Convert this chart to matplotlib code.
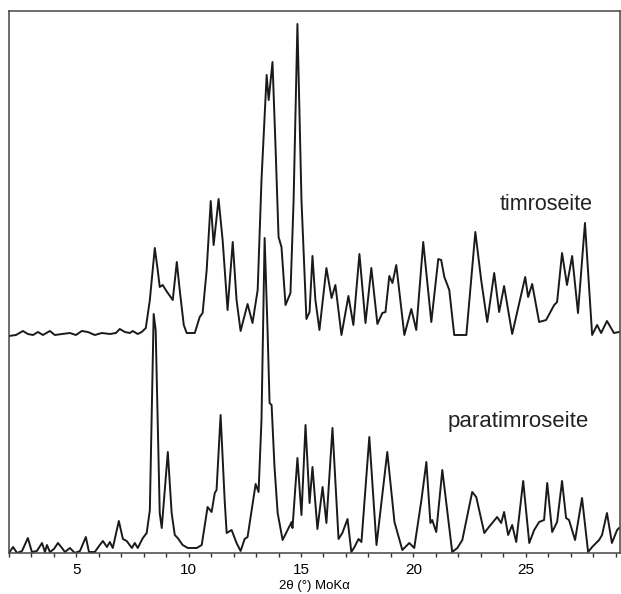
#!/usr/bin/python

import numpy as np
import matplotlib
matplotlib.use("Agg")
import matplotlib.pyplot as plt

plt.rcParams["font.family"] = ["Liberation Sans", "DejaVu Sans"]

# timroseite (upper pattern), intensity above its own baseline
tim_2theta = [
  2.00, 2.31, 2.62, 2.84, 3.07, 3.29, 3.51, 3.82, 4.04, 4.36, 4.71, 4.98,
  5.24, 5.51, 5.82, 6.13, 6.49, 6.76, 6.93, 7.16, 7.38, 7.51, 7.73, 7.91,
  8.09, 8.27, 8.49, 8.62, 8.71, 8.84, 8.98, 9.07, 9.29, 9.47, 9.60, 9.78,
  9.91, 10.27, 10.49, 10.62, 10.80, 10.98, 11.11, 11.33, 11.51, 11.73, 11.96, 12.13,
  12.31, 12.62, 12.84, 13.07, 13.24, 13.47, 13.56, 13.73, 13.87, 14.00, 14.13, 14.31,
  14.53, 14.67, 14.84, 15.02, 15.24, 15.38, 15.51, 15.64, 15.82, 16.13, 16.36, 16.53,
  16.80, 17.11, 17.33, 17.60, 17.87, 18.13, 18.40, 18.62, 18.76, 18.93, 19.07, 19.24,
  19.60, 19.91, 20.13, 20.44, 20.80, 21.11, 21.24, 21.38, 21.60, 21.82, 22.36, 22.76,
  23.02, 23.29, 23.60, 23.82, 24.04, 24.40, 24.98, 25.11, 25.29, 25.60, 25.91, 26.27,
  26.40, 26.62, 26.84, 27.07, 27.33, 27.64, 27.96, 28.18, 28.36, 28.62, 28.93, 29.16,
]
tim_int = [
  0, 1, 5, 2, 1, 4, 1, 5, 1, 2, 3, 1,
  5, 4, 1, 3, 2, 3, 7, 4, 3, 5, 2, 4,
  8, 36, 88, 66, 49, 51, 46, 43, 36, 74, 46, 11,
  3, 3, 19, 23, 66, 135, 91, 137, 96, 26, 94, 36,
  5, 32, 13, 46, 156, 261, 236, 274, 186, 99, 89, 31,
  43, 136, 312, 136, 17, 24, 80, 36, 6, 68, 38, 51,
  1, 40, 11, 82, 13, 68, 12, 23, 24, 60, 53, 71,
  1, 27, 6, 94, 14, 77, 76, 59, 46, 1, 1, 104,
  56, 14, 63, 24, 50, 2, 59, 39, 52, 14, 16, 31,
  34, 83, 51, 80, 23, 113, 1, 11, 3, 15, 3, 4,
]

# paratimroseite (lower pattern)
para_2theta = [
  2.00, 2.18, 2.36, 2.58, 2.84, 3.02, 3.24, 3.47, 3.60, 3.69, 3.82, 4.00,
  4.18, 4.36, 4.49, 4.71, 4.93, 5.16, 5.42, 5.56, 5.82, 6.04, 6.18, 6.36,
  6.49, 6.62, 6.89, 7.07, 7.24, 7.47, 7.60, 7.73, 7.96, 8.13, 8.27, 8.44,
  8.53, 8.71, 8.80, 9.07, 9.24, 9.38, 9.51, 9.73, 9.96, 10.36, 10.58, 10.84,
  11.02, 11.16, 11.24, 11.42, 11.60, 11.69, 11.91, 12.13, 12.31, 12.49, 12.62, 12.98,
  13.11, 13.24, 13.38, 13.51, 13.60, 13.69, 13.82, 13.96, 14.18, 14.36, 14.58, 14.62,
  14.84, 15.02, 15.20, 15.38, 15.51, 15.73, 15.96, 16.13, 16.40, 16.67, 16.84, 17.07,
  17.24, 17.38, 17.56, 17.69, 18.04, 18.36, 18.84, 19.16, 19.51, 19.82, 20.04, 20.36,
  20.58, 20.76, 20.84, 21.02, 21.29, 21.73, 21.96, 22.18, 22.62, 22.80, 23.16, 23.33,
  23.51, 23.73, 23.91, 24.04, 24.22, 24.40, 24.58, 24.89, 25.16, 25.38, 25.60, 25.82,
  25.96, 26.18, 26.40, 26.62, 26.80, 26.93, 27.20, 27.51, 27.78, 27.96, 28.27, 28.40,
  28.62, 28.84, 29.07, 29.16,
]
para_int = [
  0, 6, 0, 2, 15, 1, 2, 10, 1, 8, 1, 4,
  10, 5, 1, 5, 0, 2, 16, 1, 1, 8, 12, 6,
  11, 5, 32, 14, 12, 5, 10, 5, 15, 20, 43, 239,
  223, 40, 25, 101, 40, 18, 15, 8, 5, 5, 8, 46,
  41, 60, 63, 138, 53, 20, 23, 10, 2, 14, 16, 69,
  61, 133, 315, 223, 150, 148, 86, 40, 13, 21, 31, 25,
  95, 38, 128, 50, 86, 24, 66, 30, 125, 14, 20, 34,
  1, 6, 14, 11, 116, 8, 101, 31, 3, 10, 5, 53,
  91, 30, 33, 21, 83, 1, 5, 13, 61, 56, 20, 25,
  30, 36, 30, 41, 18, 28, 11, 72, 10, 23, 31, 33,
  70, 21, 31, 72, 35, 33, 13, 55, 1, 6, 13, 18,
  40, 10, 23, 25,
]

tim_offset = 217


def main():
  fig = plt.figure(figsize=(6.21, 5.94), dpi=100)
  ax = fig.add_axes([9/621, 41/594, 611/621, 542/594])

  ax.plot(tim_2theta, np.array(tim_int) + tim_offset, color='#1a1a1a', lw=1.4,
          solid_joinstyle='round')
  ax.plot(para_2theta, para_int, color='#1a1a1a', lw=1.4,
          solid_joinstyle='round')

  ax.set_xlim(2, 29.2)
  ax.set_ylim(0, 542)
  ax.set_yticks([])
  ax.set_xticks([5, 10, 15, 20, 25])
  ax.set_xticks(np.arange(2, 30), minor=True)
  ax.tick_params(axis='x', which='both', direction='out', length=3,
                 width=1, color='#333333', labelsize=11, pad=4)

  for sp in ax.spines.values():
    sp.set_color('#444444')
    sp.set_linewidth(1.1)

  ax.set_xlabel("2θ (°) MoKα", fontsize=9.5, labelpad=2)

  ax.text(25.91, 348, "timroseite", fontsize=15.5, ha='center', va='center',
          color='#222222')
  ax.text(24.67, 131, "paratimroseite", fontsize=16, ha='center', va='center',
          color='#222222')

  fig.savefig("out.png", dpi=100)


if __name__ == "__main__":
  main()
